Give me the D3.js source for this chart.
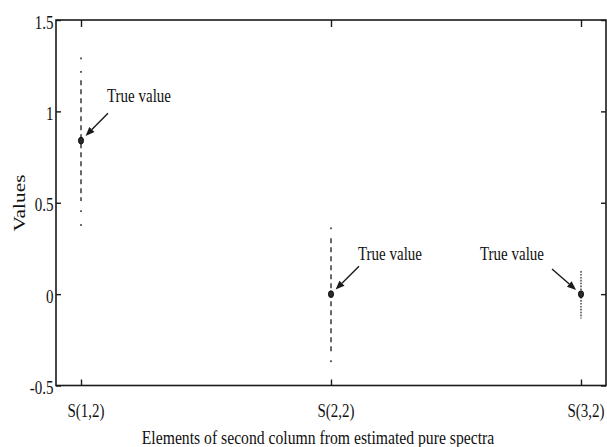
<!DOCTYPE html>
<html>
<head>
<meta charset="utf-8">
<script src="https://cdn.jsdelivr.net/npm/d3@7/dist/d3.min.js"></script>
<style>
  html, body { margin: 0; padding: 0; background: #fff; }
  svg { display: block; }
  text { font-family: "Liberation Serif", "Times New Roman", serif; fill: #111; }
</style>
</head>
<body>
<svg id="chart" width="607" height="447"></svg>
<script>
// Elements of the second column of the estimated pure spectra
const categories = ["S(1,2)", "S(2,2)", "S(3,2)"];
const trueValues = [0.84, 0, 0];
// bulk of the estimates (dashed span)
const denseLow  = [0.51, -0.315, -0.133];
const denseHigh = [1.17, 0.306, 0.126];
// sparse extreme estimates (isolated dots)
const sparseEstimates = [
  [1.29, 1.216, 0.454, 0.378],
  [0.36, -0.367],
  []
];
const yTicks = [-0.5, 0, 0.5, 1, 1.5];
const yTickLabels = ["-0.5", "0", "0.5", "1", "1.5"];
// "True value" callouts: arrow tail and label anchor in data units
const calloutText = ["True value", "True value", "True value"];
const arrowTail = [[1.108, 0.99], [2.112, 0.153], [2.884, 0.137]];
const labelAnchor = [[1.104, 1.05], [2.108, 0.186], [2.596, 0.186]];

const xLabel = "Elements of second column from estimated pure spectra";
const yLabel = "Values";

const svg = d3.select("#chart");
const plotLeft = 56, plotRight = 606, plotTop = 20, plotBottom = 385.5;
const stretch = 1.3;      // tall, narrow lettering

const x = d3.scaleLinear().domain([0.9, 3.1]).range([plotLeft, plotRight]);
const y = d3.scaleLinear().domain([-0.5, 1.5]).range([plotBottom, plotTop]);

const ink = "#1a1a1a";

// ticks (inward on all four sides)
const gx = svg.append("g").attr("transform", `translate(0,${plotBottom})`)
  .call(d3.axisBottom(x).tickValues([1, 2, 3]).tickSize(-6).tickFormat(""));
const gxt = svg.append("g").attr("transform", `translate(0,${plotTop})`)
  .call(d3.axisTop(x).tickValues([1, 2, 3]).tickSize(-7).tickFormat(""));
const gy = svg.append("g").attr("transform", `translate(${plotLeft},0)`)
  .call(d3.axisLeft(y).tickValues(yTicks).tickSize(-5).tickFormat(""));
const gyr = svg.append("g").attr("transform", `translate(${plotRight},0)`)
  .call(d3.axisRight(y).tickValues(yTicks).tickSize(-5).tickFormat(""));
[gx, gxt, gy, gyr].forEach(g => {
  g.select(".domain").remove();
  g.selectAll(".tick line").attr("stroke", ink).attr("stroke-width", 1.4);
});

// frame
svg.append("rect")
  .attr("x", plotLeft).attr("y", plotTop)
  .attr("width", plotRight - plotLeft).attr("height", plotBottom - plotTop)
  .attr("fill", "none").attr("stroke", ink).attr("stroke-width", 1.6);

// tick labels
svg.append("g").selectAll("text").data(yTicks).join("text")
  .attr("transform", (d) => `translate(53.5,${y(d) + 8.5}) scale(1,${stretch})`)
  .attr("text-anchor", "end")
  .attr("font-size", 15)
  .text((d, i) => yTickLabels[i]);

svg.append("g").selectAll("text").data(categories).join("text")
  .attr("transform", (d, i) => `translate(${x(i + 1) + 5},417) scale(1,${stretch})`)
  .attr("text-anchor", "middle")
  .attr("font-size", 15)
  .text(d => d);

// axis titles
svg.append("text")
  .attr("transform", `translate(318,444) scale(1,1.24)`)
  .attr("text-anchor", "middle")
  .attr("font-size", 15.7)
  .text(xLabel);

svg.append("text")
  .attr("transform", `translate(24.5,203) rotate(-90) scale(${stretch},1)`)
  .attr("text-anchor", "middle")
  .attr("font-size", 16.5)
  .text(yLabel);

// spread of estimates
const spread = svg.append("g");
categories.forEach((c, i) => {
  const fine = sparseEstimates[i].length === 0;
  spread.append("line")
    .attr("x1", x(i + 1)).attr("x2", x(i + 1))
    .attr("y1", y(denseHigh[i])).attr("y2", y(denseLow[i]))
    .attr("stroke", ink)
    .attr("stroke-width", fine ? 1.2 : 1.3)
    .attr("stroke-dasharray", fine ? "1.6,1.3" : "5,4");
  spread.selectAll(null).data(sparseEstimates[i]).join("rect")
    .attr("x", x(i + 1) - 0.7).attr("y", d => y(d) - 0.9)
    .attr("width", 1.4).attr("height", 1.8)
    .attr("fill", ink);
});

// true values
svg.append("g").selectAll("ellipse").data(trueValues).join("ellipse")
  .attr("cx", (d, i) => x(i + 1)).attr("cy", d => y(d))
  .attr("rx", 2.6).attr("ry", 3.4)
  .attr("fill", "#2a2a2a").attr("stroke", "#000").attr("stroke-width", 0.8);

// callouts
const callouts = svg.append("g");
trueValues.forEach((v, i) => {
  const mx = x(i + 1), my = y(v);
  const tx = x(arrowTail[i][0]), ty = y(arrowTail[i][1]);
  const dx = tx - mx, dy = ty - my, len = Math.hypot(dx, dy);
  const ux = dx / len, uy = dy / len;
  const tipX = mx + ux * 6.5, tipY = my + uy * 6.5;
  const headLen = 9, headHalf = 3.6;
  const baseX = tipX + ux * headLen, baseY = tipY + uy * headLen;
  callouts.append("line")
    .attr("x1", tx).attr("y1", ty).attr("x2", baseX).attr("y2", baseY)
    .attr("stroke", ink).attr("stroke-width", 1.4);
  callouts.append("path")
    .attr("d", `M${tipX},${tipY}L${baseX - uy * headHalf},${baseY + ux * headHalf}` +
               `L${baseX + uy * headHalf},${baseY - ux * headHalf}Z`)
    .attr("fill", ink);
  callouts.append("text")
    .attr("transform", `translate(${x(labelAnchor[i][0])},${y(labelAnchor[i][1])}) scale(1,${stretch})`)
    .attr("font-size", 15)
    .text(calloutText[i]);
});
</script>
</body>
</html>
